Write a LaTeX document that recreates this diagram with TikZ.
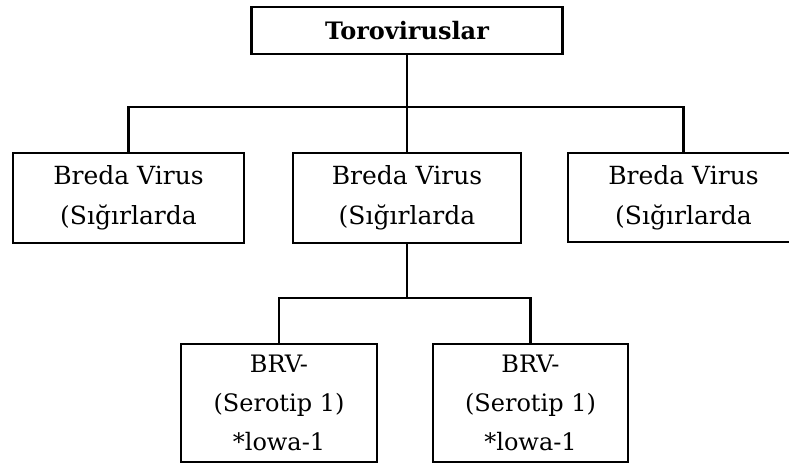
\documentclass[tikz,border=0pt]{standalone}
\usepackage{fontspec}
\setmainfont{DejaVu Serif}
\begin{document}
\begin{tikzpicture}[x=1pt, y=-1pt, line width=2.2pt,
  kutu/.style={draw, inner sep=0pt, align=center, font=\fontsize{25}{40}\selectfont}]
\useasboundingbox (0,0) rectangle (789,464);

\node[kutu, minimum width=311pt, minimum height=47pt, font=\fontsize{24}{40}\selectfont\bfseries] (toro) at (407,30.5){Toroviruslar};

\node[kutu, minimum width=231pt, minimum height=90pt] (breda1) at (128.5,198){Breda Virus\\(Sığırlarda};
\node[kutu, minimum width=228pt, minimum height=90pt] (breda2) at (407,198){Breda Virus\\(Sığırlarda};
\node[kutu, minimum width=231pt, minimum height=89pt] (breda3) at (683.5,197.5){Breda Virus\\(Sığırlarda};

\node[kutu, minimum width=196pt, minimum height=118pt, font=\fontsize{24}{39}\selectfont] (brv1) at (279,403){BRV-\\(Serotip 1)\\*lowa-1};
\node[kutu, minimum width=195pt, minimum height=118pt, font=\fontsize{24}{39}\selectfont] (brv2) at (530.5,403){BRV-\\(Serotip 1)\\*lowa-1};

\coordinate (ust) at (407,107);
\coordinate (alt) at (407,298);

\draw (toro.south) -- (breda2.north);
\draw (breda1.north) |- (ust) -| (breda3.north);
\draw (breda2.south) -- (alt);
\draw (brv1.north) |- (alt) -| (brv2.north);
\end{tikzpicture}
\end{document}
